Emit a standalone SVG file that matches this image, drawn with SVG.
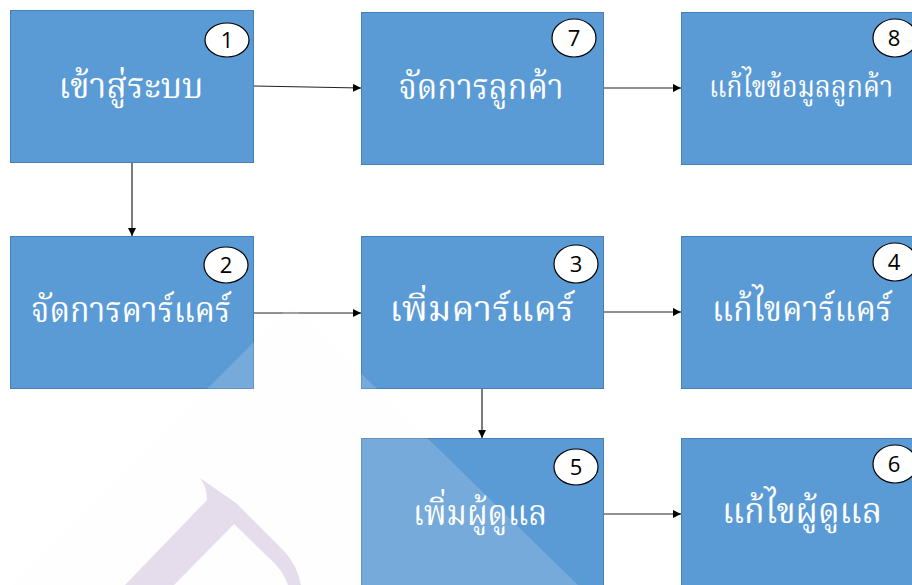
<svg xmlns="http://www.w3.org/2000/svg" width="912" height="585" viewBox="0 0 912 585">
<defs>
<style>
.box{fill:#5B9BD5;stroke:#4A7FB5;stroke-width:1}
.lbl{fill:#ffffff;font-family:"Noto Serif Thai","Noto Sans Thai Looped","Noto Sans Thai","Leelawadee UI",Tahoma,serif;font-size:35px;text-anchor:middle}
.num{fill:#ffffff;stroke:#000000;stroke-width:1.2}
.numt{fill:#000000;font-family:"Open Sans","Liberation Sans",sans-serif;font-size:22px;text-anchor:middle}
.conn{stroke:#222222;stroke-width:1.2;fill:none;marker-end:url(#ah)}
</style>
<marker id="ah" viewBox="0 0 10 10" refX="10" refY="5" markerWidth="8" markerHeight="8" markerUnits="userSpaceOnUse" orient="auto">
<path d="M0,0 L10,5 L0,10 Z" fill="#000000"/>
</marker>
</defs>
<rect x="0" y="0" width="912" height="585" fill="#ffffff"/>

<g id="node1">
<rect class="box" x="10.5" y="10.5" width="243" height="152"/>
<text class="lbl" x="131" y="98" textLength="145" lengthAdjust="spacingAndGlyphs">เข้าสู่ระบบ</text>
<ellipse class="num" cx="227" cy="40" rx="22" ry="17"/>
<text class="numt" x="227" y="48">1</text>
</g>
<g id="node7">
<rect class="box" x="361.5" y="12.5" width="242" height="152"/>
<text class="lbl" x="481" y="99" textLength="165" lengthAdjust="spacingAndGlyphs">จัดการลูกค้า</text>
<ellipse class="num" cx="574" cy="38" rx="22" ry="19"/>
<text class="numt" x="574" y="46">7</text>
</g>
<g id="node8">
<rect class="box" x="681.5" y="12.5" width="240" height="152"/>
<text class="lbl" x="801" y="97" style="font-size:30px" textLength="184" lengthAdjust="spacingAndGlyphs">แก้ไขข้อมูลลูกค้า</text>
<ellipse class="num" cx="895" cy="38" rx="22" ry="19"/>
<text class="numt" x="894" y="46">8</text>
</g>
<g id="node2">
<rect class="box" x="10.5" y="236.5" width="243" height="152"/>
<text class="lbl" x="131" y="322" textLength="200" lengthAdjust="spacingAndGlyphs">จัดการคาร์แคร์</text>
<ellipse class="num" cx="226" cy="265" rx="22" ry="18"/>
<text class="numt" x="226" y="273">2</text>
</g>
<g id="node3">
<rect class="box" x="361.5" y="236.5" width="242" height="152"/>
<text class="lbl" x="482" y="321" textLength="185" lengthAdjust="spacingAndGlyphs">เพิ่มคาร์แคร์</text>
<ellipse class="num" cx="576" cy="264" rx="22" ry="19"/>
<text class="numt" x="576" y="272">3</text>
</g>
<g id="node4">
<rect class="box" x="681.5" y="236.5" width="240" height="152"/>
<text class="lbl" x="802" y="321" textLength="180" lengthAdjust="spacingAndGlyphs">แก้ไขคาร์แคร์</text>
<ellipse class="num" cx="895" cy="262" rx="22" ry="19"/>
<text class="numt" x="894" y="270">4</text>
</g>
<g id="node5">
<rect class="box" x="361.5" y="438.5" width="242" height="160"/>
<text class="lbl" x="480" y="525" textLength="134" lengthAdjust="spacingAndGlyphs">เพิ่มผู้ดูแล</text>
<ellipse class="num" cx="576" cy="467" rx="22" ry="18"/>
<text class="numt" x="576" y="475">5</text>
</g>
<g id="node6">
<rect class="box" x="681.5" y="438.5" width="240" height="160"/>
<text class="lbl" x="802" y="523" textLength="160" lengthAdjust="spacingAndGlyphs">แก้ไขผู้ดูแล</text>
<ellipse class="num" cx="895" cy="464" rx="22" ry="19"/>
<text class="numt" x="894" y="472">6</text>
</g>

<g id="connectors">
<path class="conn" d="M254,86 L361,88"/>
<path class="conn" d="M132,163 L132,236"/>
<path class="conn" d="M604,88 L681,88"/>
<path class="conn" d="M254,313 L361,313"/>
<path class="conn" d="M604,312 L681,312"/>
<path class="conn" d="M482,389 L482,438"/>
<path class="conn" d="M604,514 L681,514"/>
</g>

<g id="watermark">
<path d="M291,305 L-30,626 L620,626 Z" fill="#FAFBFC" opacity="0.17"/>
<path d="M200,478 Q207,487 207,500 L125,585 L174,585 L234,524 L268,557 Q283,570 288,585 L301,585 Q297,564 282,549 L236,503 Z" fill="#E5DCEC"/>
</g>
</svg>
